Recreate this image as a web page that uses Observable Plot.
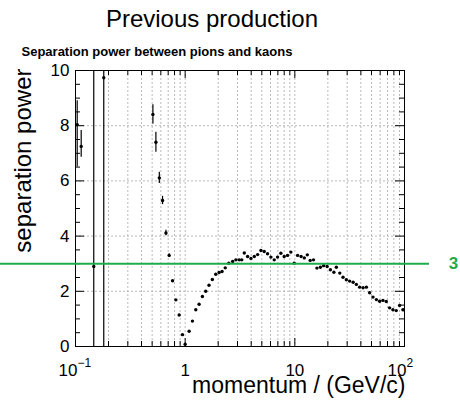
<!DOCTYPE html>
<html>
<head>
<meta charset="utf-8">
<script src="https://cdn.jsdelivr.net/npm/d3@7"></script>
<script src="https://cdn.jsdelivr.net/npm/@observablehq/plot@0.6"></script>
<style>
  html, body { margin: 0; padding: 0; background: white; }
</style>
</head>
<body>
<div id="chart"></div>
<script>
// ---- data ----
const momentum = [
  0.1036, 0.1127, 0.1467, 0.181,
  0.508, 0.541, 0.581, 0.622, 0.668, 0.715, 0.767, 0.823, 0.882, 0.945,
  1.00, 1.087, 1.165, 1.25, 1.34, 1.436, 1.54, 1.65, 1.77, 1.90,
  2.04, 2.17, 2.32, 2.50, 2.71, 2.90, 3.11, 3.28, 3.46, 3.71, 3.98,
  4.27, 4.58, 4.91, 5.26, 5.64, 6.05, 6.49, 6.96, 7.46, 8.00, 8.58, 9.20, 9.87,
  10.6, 11.4, 12.2, 13.0, 13.8, 14.8, 15.9, 17.1, 18.3, 19.7,
  21.1, 22.7, 23.9, 25.7, 27.5, 29.5, 31.6, 34.0, 36.4, 39.0,
  41.9, 44.9, 48.1, 51.6, 55.4, 59.3, 63.6, 68.2, 73.1, 78.4, 84.1, 90.2, 96.7
];
const separation = [
  8.04, 7.25, 2.90, 9.74,
  8.41, 7.40, 6.11, 5.29, 4.11, 3.30, 2.38, 1.69, 1.14, 0.43,
  0.08, 0.55, 0.92, 1.33, 1.53, 1.81, 2.00, 2.22, 2.43, 2.62,
  2.68, 2.72, 2.85, 3.02, 3.08, 3.14, 3.14, 3.14, 3.39, 3.26, 3.19,
  3.26, 3.33, 3.48, 3.44, 3.36, 3.24, 3.14, 3.24, 3.38, 3.26, 3.30, 3.42, 3.02,
  3.30, 3.26, 3.21, 3.32, 3.12, 3.14, 2.84, 2.87, 2.93, 2.90,
  2.78, 2.69, 2.87, 2.66, 2.51, 2.42, 2.37, 2.33, 2.25, 2.15,
  2.13, 2.15, 1.95, 1.79, 1.70, 1.64, 1.67, 1.63, 1.40, 1.33, 1.30, 1.49, 1.33
];
// lower / upper end of the error bar (same as value = no visible bar)
const errorLow = [
  6.5, 6.86, -5, -5,
  8.06, 7.04, 5.91, 5.14, 4.01, 3.24
];
const errorHigh = [
  8.9, 7.83, 15, 15,
  8.76, 7.76, 6.31, 5.44, 4.21, 3.36
];
const threshold = 3;

const xMajor = [0.1, 1, 10, 100];
const xMinor = [0.2,0.3,0.4,0.5,0.6,0.7,0.8,0.9, 2,3,4,5,6,7,8,9, 20,30,40,50,60,70,80,90];
const yMajor = [0, 2, 4, 6, 8, 10];
const yMinor = [0.5,1,1.5,2.5,3,3.5,4.5,5,5.5,6.5,7,7.5,8.5,9,9.5];
const yGrid = [2, 4, 6, 8];

const titleText = "Previous production";
const subtitleText = "Separation power between pions and kaons";
const xTitle = "momentum / (GeV/c)";
const yTitle = "separation power";

// ---- table ----
const points = momentum.map((p, i) => ({
  p, s: separation[i],
  lo: i < errorLow.length ? errorLow[i] : separation[i],
  hi: i < errorHigh.length ? errorHigh[i] : separation[i]
}));

const W = 460, H = 400, mL = 75, mR = 56, mT = 70, mB = 54;
const iw = W - mL - mR, ih = H - mT - mB;
const green = "#1fab4c";
const font = "'Liberation Sans', Arial, Helvetica, sans-serif";

const plot = Plot.plot({
  width: W, height: H,
  marginLeft: mL, marginRight: mR, marginTop: mT, marginBottom: mB,
  style: { fontFamily: font, background: "white", overflow: "visible", color: "black" },
  x: { type: "log", domain: [0.1, 100], axis: null },
  y: { domain: [0, 10], axis: null },
  marks: [
    // grid
    Plot.ruleX(xMinor.concat([1, 10]), { stroke: "#a8a8a8", strokeWidth: 0.8, strokeDasharray: "2,2" }),
    Plot.ruleY(yGrid, { stroke: "#a8a8a8", strokeWidth: 0.8, strokeDasharray: "2,2" }),
    // ticks (inside the frame, ROOT style)
    Plot.ruleX(xMinor, { insetTop: ih - 5, stroke: "black" }),
    Plot.ruleX(xMajor, { insetTop: ih - 8, stroke: "black" }),
    Plot.ruleX(xMinor, { insetBottom: ih - 5, stroke: "black" }),
    Plot.ruleX(xMajor, { insetBottom: ih - 8, stroke: "black" }),
    Plot.ruleY(yMinor, { insetRight: iw - 5, stroke: "black" }),
    Plot.ruleY(yMajor, { insetRight: iw - 9, stroke: "black" }),
    Plot.ruleY(yMinor, { insetLeft: iw - 5, stroke: "black" }),
    Plot.ruleY(yMajor, { insetLeft: iw - 9, stroke: "black" }),
    Plot.frame({ stroke: "black", strokeWidth: 1 }),
    // error bars + points
    Plot.ruleX(points, { x: "p", y1: "lo", y2: "hi", stroke: "black", strokeWidth: 1.2, clip: true }),
    Plot.dot(points, { x: "p", y: "s", r: 1.7, fill: "black", stroke: "none", clip: true }),
    // threshold line
    Plot.ruleY([threshold], { stroke: green, strokeWidth: 2, insetLeft: -mL, insetRight: -25 }),
    Plot.text([threshold], { y: d => d, frameAnchor: "right", dx: 49, text: d => String(d),
      fill: green, fontWeight: "bold", fontSize: 17, textAnchor: "middle" }),
    // y tick labels
    Plot.text(yMajor, { y: d => d, frameAnchor: "left", dx: -6, text: d => String(d),
      textAnchor: "end", fontSize: 17 }),
    // x tick labels
    Plot.text([1, 10], { x: d => d, frameAnchor: "bottom", dy: 29, lineAnchor: "bottom",
      text: d => String(d), fontSize: 17 }),
    Plot.text([0.1, 100], { x: d => d, frameAnchor: "bottom", dy: 29, dx: 2, lineAnchor: "bottom",
      textAnchor: "end", text: d => "10", fontSize: 17 }),
    Plot.text([0.1, 100], { x: d => d, frameAnchor: "bottom", dy: 20, dx: 2, lineAnchor: "bottom",
      textAnchor: "start", text: d => d < 1 ? "\u22121" : "2", fontSize: 12 }),
    // axis titles
    Plot.text([xTitle], { frameAnchor: "bottom-right", dx: 1, dy: 46, lineAnchor: "bottom",
      textAnchor: "end", text: d => d, fontSize: 23 }),
    Plot.text([yTitle], { frameAnchor: "top-left", dx: -45, dy: -2, rotate: -90, lineAnchor: "bottom",
      textAnchor: "end", text: d => d, fontSize: 24 }),
    // titles
    Plot.text([titleText], { frameAnchor: "top", dx: -28, dy: -44, lineAnchor: "bottom",
      text: d => d, fontSize: 24 }),
    Plot.text([subtitleText], { frameAnchor: "top-left", dx: -54, dy: -15, lineAnchor: "bottom",
      textAnchor: "start", text: d => d, fontSize: 13, fontWeight: "bold" })
  ]
});
document.getElementById("chart").appendChild(plot);
</script>
</body>
</html>
